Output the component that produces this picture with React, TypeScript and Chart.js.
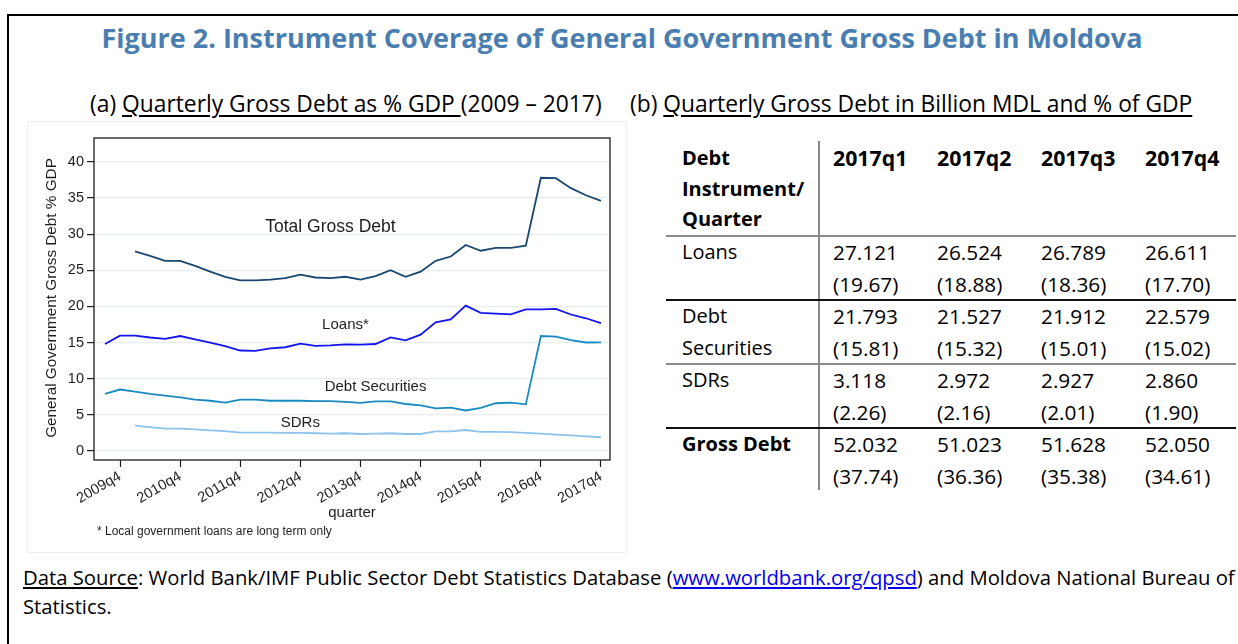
import React, { useEffect, useRef } from "react";
import { Chart, registerables } from "chart.js";

Chart.register(...registerables);

// ---------- chart data ----------
const quarters = [
  "2009q3", "2009q4",
  "2010q1", "2010q2", "2010q3", "2010q4",
  "2011q1", "2011q2", "2011q3", "2011q4",
  "2012q1", "2012q2", "2012q3", "2012q4",
  "2013q1", "2013q2", "2013q3", "2013q4",
  "2014q1", "2014q2", "2014q3", "2014q4",
  "2015q1", "2015q2", "2015q3", "2015q4",
  "2016q1", "2016q2", "2016q3", "2016q4",
  "2017q1", "2017q2", "2017q3", "2017q4",
];

const xTickLabels = ["2009q4", "2010q4", "2011q4", "2012q4", "2013q4", "2014q4", "2015q4", "2016q4", "2017q4"];
const yTickValues = [0, 5, 10, 15, 20, 25, 30, 35, 40];

const totalGrossDebt: (number | null)[] = [
  null, null,
  27.6, 27.0, 26.3, 26.3,
  25.6, 24.8, 24.1, 23.6,
  23.6, 23.7, 23.9, 24.4,
  24.0, 23.9, 24.1, 23.7,
  24.2, 25.0, 24.1, 24.8,
  26.3, 26.9, 28.5, 27.7,
  28.1, 28.1, 28.4, 37.8,
  37.74, 36.36, 35.38, 34.61,
];

const loans: (number | null)[] = [
  14.8, 15.96,
  15.96, 15.7, 15.5, 15.9,
  15.45, 15.0, 14.5, 13.9,
  13.85, 14.2, 14.35, 14.85,
  14.55, 14.6, 14.75, 14.7,
  14.8, 15.7, 15.3, 16.1,
  17.8, 18.2, 20.1, 19.1,
  19.0, 18.9, 19.6, 19.6,
  19.67, 18.88, 18.36, 17.7,
];

const debtSecurities: (number | null)[] = [
  7.9, 8.5,
  8.2, 7.9, 7.65, 7.4,
  7.1, 6.95, 6.7, 7.1,
  7.1, 6.95, 6.95, 6.95,
  6.9, 6.9, 6.8, 6.65,
  6.85, 6.85, 6.5, 6.3,
  5.9, 6.0, 5.6, 5.95,
  6.6, 6.7, 6.45, 15.9,
  15.81, 15.32, 15.01, 15.02,
];

const sdrs: (number | null)[] = [
  null, null,
  3.5, 3.3, 3.1, 3.1,
  3.0, 2.85, 2.75, 2.55,
  2.55, 2.55, 2.5, 2.5,
  2.45, 2.4, 2.45, 2.35,
  2.4, 2.45, 2.35, 2.35,
  2.7, 2.7, 2.9, 2.65,
  2.65, 2.6, 2.5, 2.4,
  2.26, 2.16, 2.01, 1.9,
];

// ---------- table data ----------
const tableQuarters = ["2017q1", "2017q2", "2017q3", "2017q4"];
const loansMDL = [27.121, 26.524, 26.789, 26.611];
const loansPct = [19.67, 18.88, 18.36, 17.7];
const debtSecMDL = [21.793, 21.527, 21.912, 22.579];
const debtSecPct = [15.81, 15.32, 15.01, 15.02];
const sdrsMDL = [3.118, 2.972, 2.927, 2.86];
const sdrsPct = [2.26, 2.16, 2.01, 1.9];
const grossMDL = [52.032, 51.023, 51.628, 52.05];
const grossPct = [37.74, 36.36, 35.38, 34.61];

// ---------- chart ----------
const AXIS_FONT = "'Liberation Sans', Arial, Helvetica, sans-serif";
const INK = "#1e1e1e";

const seriesNotes = [
  { text: "Total Gross Debt", q: "2013q2", v: 30.9, size: 17.5 },
  { text: "Loans*", q: "2013q3", v: 17.4, size: 15 },
  { text: "Debt Securities", q: "2014q1", v: 8.9, size: 15 },
  { text: "SDRs", q: "2012q4", v: 3.9, size: 15 },
];

const toPoints = (arr: (number | null)[]) => arr.map((v, i) => ({ x: i, y: v }));

const decorPlugin = {
  id: "decor",
  afterDatasetsDraw(chart: any) {
    const { ctx, chartArea, scales } = chart;
    ctx.save();
    ctx.strokeStyle = INK;
    ctx.lineWidth = 1.3;
    ctx.strokeRect(chartArea.left, chartArea.top, chartArea.right - chartArea.left, chartArea.bottom - chartArea.top);
    ctx.fillStyle = INK;
    ctx.textAlign = "center";
    ctx.textBaseline = "middle";
    for (const n of seriesNotes) {
      ctx.font = `${n.size}px ${AXIS_FONT}`;
      ctx.fillText(n.text, scales.x.getPixelForValue(quarters.indexOf(n.q)), scales.y.getPixelForValue(n.v));
    }
    ctx.restore();
  },
  afterDraw(chart: any) {
    const { ctx, chartArea } = chart;
    ctx.save();
    ctx.fillStyle = INK;
    ctx.font = `15.3px ${AXIS_FONT}`;
    ctx.textAlign = "center";
    ctx.textBaseline = "middle";
    ctx.translate(24, (chartArea.top + chartArea.bottom) / 2 - 1);
    ctx.rotate(-Math.PI / 2);
    ctx.fillText("General Government Gross Debt % GDP", 0, 0);
    ctx.restore();
    ctx.save();
    ctx.fillStyle = INK;
    ctx.font = `15px ${AXIS_FONT}`;
    ctx.textAlign = "center";
    ctx.textBaseline = "middle";
    ctx.fillText("quarter", (chartArea.left + chartArea.right) / 2, chartArea.bottom + 53);
    ctx.font = `12px ${AXIS_FONT}`;
    ctx.textAlign = "left";
    ctx.fillText("* Local government loans are long term only", 69, chartArea.bottom + 72);
    ctx.restore();
  },
};

export default function App() {
  const canvasRef = useRef<HTMLCanvasElement>(null);

  useEffect(() => {
    if (!canvasRef.current) return;
    const lineDs = (label: string, arr: (number | null)[], color: string) => ({
      label,
      data: toPoints(arr),
      borderColor: color,
      backgroundColor: color,
      borderWidth: 1.8,
      pointRadius: 0,
      tension: 0,
      spanGaps: false,
    });
    const chart = new Chart(canvasRef.current, {
      type: "line",
      data: {
        datasets: [
          lineDs("Total Gross Debt", totalGrossDebt, "#1a476f"),
          lineDs("Loans*", loans, "#1414f0"),
          lineDs("Debt Securities", debtSecurities, "#1a8bc0"),
          lineDs("SDRs", sdrs, "#8dc3ea"),
        ],
      },
      options: {
        responsive: false,
        animation: false,
        layout: { padding: { left: 0, top: 16, right: 16, bottom: 0 } },
        plugins: { legend: { display: false }, tooltip: { enabled: false } },
        scales: {
          x: {
            type: "linear",
            min: -0.73,
            max: 33.6,
            afterBuildTicks: (s: any) => {
              s.ticks = xTickLabels.map((l) => ({ value: quarters.indexOf(l) }));
            },
            afterFit: (s: any) => {
              s.height = 92;
            },
            ticks: {
              autoSkip: false,
              minRotation: 30,
              maxRotation: 30,
              padding: 1,
              color: INK,
              font: { family: AXIS_FONT, size: 14.5 },
              callback: (v: any) => quarters[v] ?? "",
            },
            grid: { drawOnChartArea: false, drawTicks: true, tickLength: 7, tickColor: INK, tickWidth: 1.2 },
            border: { display: false },
          },
          y: {
            type: "linear",
            min: -1.25,
            max: 43.3,
            afterBuildTicks: (s: any) => {
              s.ticks = yTickValues.map((v) => ({ value: v }));
            },
            afterFit: (s: any) => {
              s.width = 66;
            },
            ticks: {
              padding: 3,
              color: INK,
              font: { family: AXIS_FONT, size: 14.5 },
              callback: (v: any) => String(v),
            },
            grid: { color: "#e5edf0", lineWidth: 1.2, tickColor: INK, tickLength: 7, tickWidth: 1.2 },
            border: { display: false },
          },
        },
      },
      plugins: [decorPlugin],
    } as any);
    return () => chart.destroy();
  }, []);

  const tableRows = [
    { label: ["Loans"], bold: false, mdl: loansMDL, pct: loansPct, rule: "#111" },
    { label: ["Debt", "Securities"], bold: false, mdl: debtSecMDL, pct: debtSecPct, rule: "#8a8a8a" },
    { label: ["SDRs"], bold: false, mdl: sdrsMDL, pct: sdrsPct, rule: "#111" },
    { label: ["Gross Debt"], bold: true, mdl: grossMDL, pct: grossPct, rule: null as string | null },
  ];
  const colX = [833, 937, 1041, 1145];
  const abs = (s: React.CSSProperties): React.CSSProperties => ({ position: "absolute", whiteSpace: "nowrap", ...s });
  const labelFont = 20;
  const numFont = 20.8;
  const headFont = 21.3;
  const ul: React.CSSProperties = { textDecoration: "underline", textDecorationThickness: "1.5px", textUnderlineOffset: "3px" };

  return (
    <div
      style={{
        position: "absolute",
        left: 0,
        top: 0,
        width: 1238,
        height: 644,
        overflow: "hidden",
        background: "#fff",
        color: "#000",
        fontFamily: "'Open Sans', 'Noto Sans', sans-serif",
      }}
    >
      {/* document frame */}
      <div style={abs({ left: 7, top: 14, width: 1300, height: 700, border: "2px solid #000" })} />

      {/* title */}
      <div
        style={abs({
          left: 0,
          top: 18,
          width: 1244,
          height: 40,
          lineHeight: "40px",
          textAlign: "center",
          fontSize: 27,
          fontWeight: 700,
          color: "#4a7eb0",
        })}
      >
        Figure 2. Instrument Coverage of General Government Gross Debt in Moldova
      </div>

      {/* subtitles */}
      <div style={abs({ left: 90, top: 89, height: 30, lineHeight: "30px", fontSize: 22.8 })}>
        (a) <span style={ul}>Quarterly Gross Debt as % GDP </span>(2009 – 2017)
      </div>
      <div style={abs({ left: 630, top: 89, height: 30, lineHeight: "30px", fontSize: 22.8 })}>
        (b) <span style={ul}>Quarterly Gross Debt in Billion MDL and % of GDP</span>
      </div>

      {/* chart region */}
      <div style={abs({ left: 27, top: 121, width: 598, height: 430, border: "1px solid #eceff1" })} />
      <canvas ref={canvasRef} width={598} height={430} style={{ position: "absolute", left: 28, top: 122, width: 598, height: 430 }} />

      {/* table */}
      <div style={abs({ left: 818, top: 141, width: 2, height: 349, background: "#8a8a8a" })} />
      <div style={abs({ left: 666, top: 235, width: 570, height: 2, background: "#8a8a8a" })} />
      {["Debt", "Instrument/", "Quarter"].map((t, i) => (
        <div key={t} style={abs({ left: 682, top: 143 + i * 30.5, height: 30, lineHeight: "30px", fontSize: labelFont, fontWeight: 700 })}>
          {t}
        </div>
      ))}
      {tableQuarters.map((q, j) => (
        <div key={q} style={abs({ left: colX[j], top: 143, height: 30, lineHeight: "30px", fontSize: headFont, fontWeight: 700 })}>
          {q}
        </div>
      ))}
      {tableRows.map((r, i) => {
        const top = 236 + i * 64;
        return (
          <React.Fragment key={i}>
            {r.label.map((t, k) => (
              <div
                key={t}
                style={abs({ left: 682, top: top + k * 32, height: 32, lineHeight: "32px", fontSize: labelFont, fontWeight: r.bold ? 700 : 400 })}
              >
                {t}
              </div>
            ))}
            {r.mdl.map((v, j) => (
              <React.Fragment key={j}>
                <div style={abs({ left: colX[j], top, height: 32, lineHeight: "32px", fontSize: numFont })}>{v.toFixed(3)}</div>
                <div style={abs({ left: colX[j], top: top + 32, height: 32, lineHeight: "32px", fontSize: numFont })}>
                  ({r.pct[j].toFixed(2)})
                </div>
              </React.Fragment>
            ))}
            {r.rule && <div style={abs({ left: 666, top: top + 63, width: 570, height: 2, background: r.rule })} />}
          </React.Fragment>
        );
      })}

      {/* footer */}
      <div style={abs({ left: 23, top: 563, lineHeight: "29px", fontSize: 20.3 })}>
        <span style={{ textDecoration: "underline", textUnderlineOffset: "2px" }}>Data Source</span>: World Bank/IMF Public Sector
        Debt Statistics Database (
        <span style={{ color: "#0000ee", textDecoration: "underline", textUnderlineOffset: "2px" }}>www.worldbank.org/qpsd</span>) and
        Moldova National Bureau of
        <br />
        Statistics.
      </div>
    </div>
  );
}
